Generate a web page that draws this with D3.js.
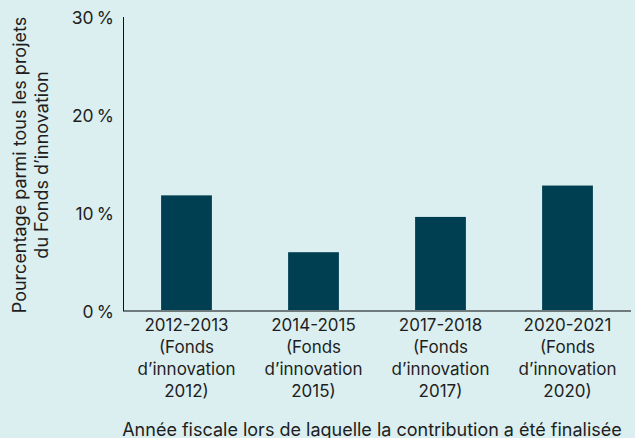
<!DOCTYPE html>
<html><head><meta charset="utf-8">
<script src="https://cdn.jsdelivr.net/npm/d3@7"></script>
<style>
html,body{margin:0;padding:0;background:#dbeff0;}
svg{display:block;}
text{font-family:Inter,"Liberation Sans",Arial,sans-serif;fill:#1e1e1e;}
</style></head>
<body><svg id="c" width="635" height="438"></svg>
<script>
const categories = ["2012-2013|(Fonds|d’innovation|2012)", "2014-2015|(Fonds|d’innovation|2015)", "2017-2018|(Fonds|d’innovation|2017)", "2020-2021|(Fonds|d’innovation|2020)"];
const values = [11.8, 6.0, 9.6, 12.8];
const yTicks = [0, 10, 20, 30];
const yTitle = ["Pourcentage parmi tous les projets", "du Fonds d’innovation"];
const xTitle = "Année fiscale lors de laquelle la contribution a été finalisée";

const svg = d3.select("#c");
const mLeft = 123, mRight = 631, mTop = 17, mBottom = 311;

const x = d3.scaleBand().domain(categories).range([mLeft, mRight]).paddingInner(0.6).paddingOuter(0.3);
const y = d3.scaleLinear().domain([0, 30]).range([mBottom, mTop]);

svg.selectAll("rect.bar").data(values).enter().append("rect")
  .attr("class", "bar")
  .attr("x", (d, i) => x(categories[i]))
  .attr("width", x.bandwidth())
  .attr("y", d => y(d))
  .attr("height", d => y(0) - y(d))
  .attr("fill", "#003f51");

svg.append("line").attr("x1", mLeft).attr("x2", mRight).attr("y1", y(0)).attr("y2", y(0))
  .attr("stroke", "#6f7a7c").attr("stroke-width", 2);
svg.append("line").attr("x1", mLeft + 0.5).attr("x2", mLeft + 0.5).attr("y1", mTop).attr("y2", y(0))
  .attr("stroke", "#111").attr("stroke-width", 1);

svg.selectAll("text.yt").data(yTicks).enter().append("text")
  .attr("class", "yt")
  .attr("x", 114).attr("y", d => y(d) + 2)
  .attr("text-anchor", "end").attr("dominant-baseline", "middle")
  .attr("font-size", 17.5)
  .text(d => d + "\u202F%");

const cg = svg.selectAll("g.cat").data(categories).enter().append("g")
  .attr("class", "cat")
  .attr("transform", d => `translate(${x(d) + x.bandwidth() / 2},0)`);
cg.each(function (d) {
  const lines = d.split("|");
  d3.select(this).selectAll("text").data(lines).enter().append("text")
    .attr("x", 0).attr("y", (l, i) => 331 + i * 22)
    .attr("text-anchor", "middle").attr("font-size", 17)
    .text(l => l);
});

svg.append("text").attr("x", 372).attr("y", 436)
  .attr("text-anchor", "middle").attr("font-size", 18)
  .text(xTitle);

const yt = svg.append("g").attr("transform", "translate(0,165) rotate(-90)");
yt.selectAll("text").data(yTitle).enter().append("text")
  .attr("x", 0).attr("y", (l, i) => 26 + i * 22)
  .attr("text-anchor", "middle").attr("font-size", 18)
  .text(l => l);
</script></body></html>
